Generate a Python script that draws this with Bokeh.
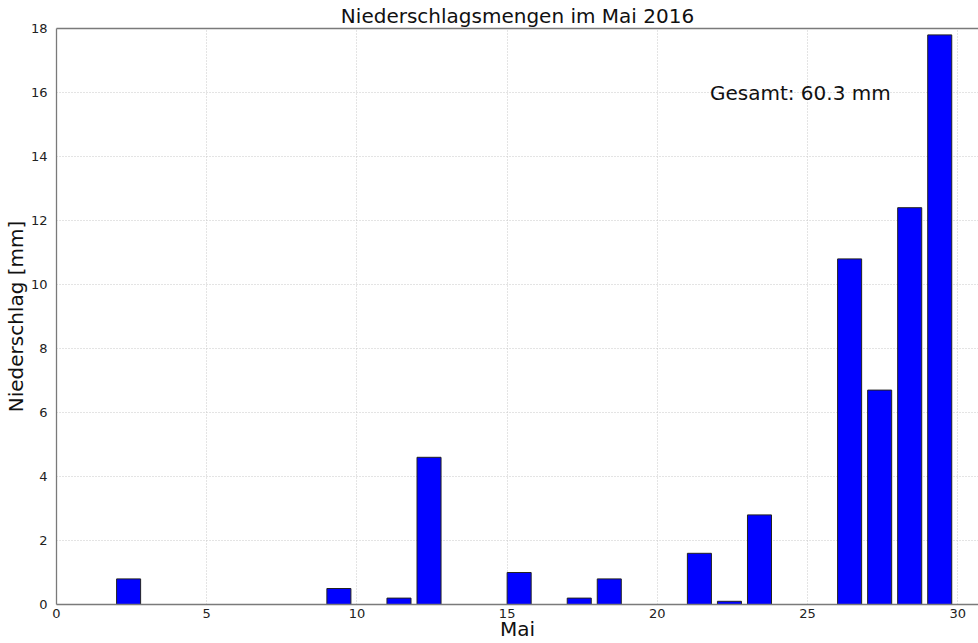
from bokeh.plotting import figure
from bokeh.models import ColumnDataSource, Range1d, LinearAxis, Label, FixedTicker
from bokeh.transform import dodge
from bokeh.embed import file_html
from bokeh.resources import INLINE

# --- data (May 2016, daily precipitation in mm) ---
tage = list(range(1, 32))
niederschlag = [0.0, 0.8, 0.0, 0.0, 0.0, 0.0, 0.0, 0.0, 0.5, 0.0,
                0.2, 4.6, 0.0, 0.0, 1.0, 0.0, 0.2, 0.8, 0.0, 0.0,
                1.6, 0.1, 2.8, 0.0, 0.0, 10.8, 6.7, 12.4, 17.8, 0.0,
                0.0]
x_ticks = [0, 5, 10, 15, 20, 25, 30]
y_ticks = [0, 2, 4, 6, 8, 10, 12, 14, 16, 18]
titel = "Niederschlagsmengen im Mai 2016"
x_label = "Mai"
y_label = "Niederschlag [mm]"
gesamt = round(sum(niederschlag), 1)

FONT = "DejaVu Sans"
FRAME = "#7a7a7a"

source = ColumnDataSource(dict(tag=tage, wert=niederschlag))

p = figure(width=978, height=643, output_backend="svg", toolbar_location=None,
           x_range=Range1d(0, 30.69), y_range=Range1d(0, 18),
           min_border_left=0, min_border_right=0, min_border_top=0,
           min_border_bottom=0, background_fill_color="white",
           border_fill_color="white")

p.title.text = titel
p.title.align = "center"
p.title.text_font = FONT
p.title.text_font_size = "20px"
p.title.text_font_style = "normal"
p.title.text_color = "#111111"
p.title.standoff = 2
p.title.offset = 4

p.outline_line_color = None

p.vbar(x=dodge("tag", 0.4), top="wert", bottom=0, width=0.8, source=source,
       fill_color="#0000ff", line_color="#222222", line_width=1)

for ax in (p.xaxis[0], p.yaxis[0]):
    ax.axis_line_color = FRAME
    ax.axis_line_width = 1.3
    ax.major_tick_line_color = None
    ax.minor_tick_line_color = None
    ax.major_label_text_font = FONT
    ax.major_label_text_font_size = "13px"
    ax.major_label_text_color = "#222222"
    ax.axis_label_text_font = FONT
    ax.axis_label_text_font_size = "20px"
    ax.axis_label_text_font_style = "normal"
    ax.axis_label_text_color = "#111111"

p.xaxis.ticker = FixedTicker(ticks=x_ticks)
p.yaxis.ticker = FixedTicker(ticks=y_ticks)
p.xaxis.axis_label = x_label
p.yaxis.axis_label = y_label
p.xaxis.major_label_standoff = -2
p.xaxis.axis_label_standoff = -4
p.yaxis.major_label_standoff = 3
p.yaxis.axis_label_standoff = 0

top_axis = LinearAxis(axis_line_color=FRAME, axis_line_width=1.3,
                      major_tick_line_color=None, minor_tick_line_color=None,
                      major_label_text_font_size="0px",
                      major_label_text_color=None)
top_axis.ticker = FixedTicker(ticks=[])
p.add_layout(top_axis, "above")

p.xgrid.ticker = FixedTicker(ticks=x_ticks)
p.ygrid.ticker = FixedTicker(ticks=y_ticks)
for g in (p.xgrid[0], p.ygrid[0]):
    g.grid_line_color = "#c8c8c8"
    g.grid_line_dash = "1 2"
    g.grid_line_width = 1

p.add_layout(Label(x=21.75, y=16, text=f"Gesamt: {gesamt} mm",
                   text_font=FONT, text_font_size="20px",
                   text_color="#111111", text_baseline="alphabetic"))

open("out.html", "w").write(file_html(p, INLINE))
